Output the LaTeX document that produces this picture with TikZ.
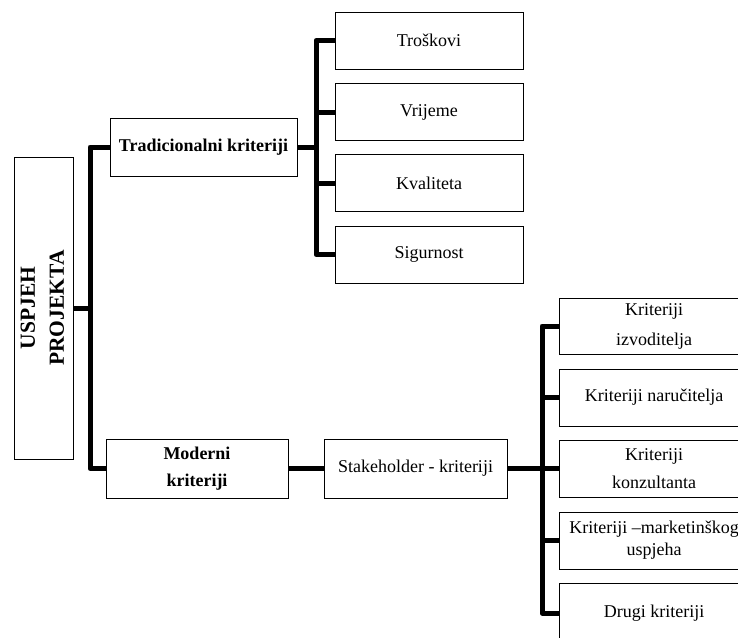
\documentclass[tikz,border=0pt]{standalone}
\usepackage{fontspec}
\usepackage{graphicx}
\setmainfont{Liberation Serif}
\begin{document}
\begin{tikzpicture}[x=1pt,y=-1pt,
  box/.style={draw,line width=1pt,inner sep=0pt,align=center,
    font=\fontsize{18}{28}\selectfont},
  conn/.style={line width=5pt,line join=round}]
\useasboundingbox (0,0) rectangle (738,637);
\clip (0,0) rectangle (738,637);
% root
\node[box,minimum width=59pt,minimum height=302pt] (usp) at (43.5,308)
  {\rotatebox{90}{\fontsize{21.5}{29}\selectfont\bfseries\begin{tabular}{@{}c@{}}USPJEH\\PROJEKTA\end{tabular}}};
% level 1
\node[box,minimum width=187pt,minimum height=58pt,font=\fontsize{18}{28}\selectfont\bfseries] (trad) at (203.5,147) {Tradicionalni kriteriji};
\node[box,minimum width=182pt,minimum height=59pt,font=\fontsize{18}{27}\selectfont\bfseries] (mod) at (197,468.5) {Moderni\\kriteriji};
% traditional criteria
\node[box,minimum width=188pt,minimum height=57pt] (tros) at (429,40.5) {Troškovi};
\node[box,minimum width=188pt,minimum height=57pt] (vrij) at (429,112) {Vrijeme};
\node[box,minimum width=188pt,minimum height=57pt] (kval) at (429,183) {Kvaliteta};
\node[box,minimum width=188pt,minimum height=57pt] (sig) at (429,254.5) {Sigurnost};
% stakeholder
\node[box,minimum width=183pt,minimum height=59pt] (stake) at (415.5,468.5) {Stakeholder - kriteriji};
% right column
\node[box,minimum width=190pt,minimum height=56pt,font=\fontsize{18}{30}\selectfont] (izv) at (654,326) {Kriteriji\\izvoditelja};
\node[box,minimum width=190pt,minimum height=57pt] (nar) at (654,397.5) {Kriteriji naručitelja};
\node[box,minimum width=190pt,minimum height=57pt,font=\fontsize{18}{28}\selectfont] (kon) at (654,468.5) {Kriteriji\\konzultanta};
\node[box,minimum width=190pt,minimum height=57pt,font=\fontsize{18}{22}\selectfont] (mar) at (654,540.5) {Kriteriji –marketinškog\\uspjeha};
\node[box,minimum width=190pt,minimum height=60pt] (dru) at (654,613) {Drugi kriteriji};
% trunk coordinates
\coordinate (t1) at (90,0);
\coordinate (t2) at (316,0);
\coordinate (t3) at (542,0);
% connectors
\draw[conn] (trad.west) -- (trad.west -| t1) -- (mod.west -| t1) -- (mod.west);
\draw[conn] (usp.east) -- (usp.east -| t1);
\draw[conn] (tros.west) -- (tros.west -| t2) -- (sig.west -| t2) -- (sig.west);
\draw[conn] (vrij.west) -- (vrij.west -| t2);
\draw[conn] (kval.west) -- (kval.west -| t2);
\draw[conn] (trad.east) -- (trad.east -| t2);
\draw[conn] (mod.east) -- (stake.west);
\draw[conn] (izv.west) -- (izv.west -| t3) -- (dru.west -| t3) -- (dru.west);
\draw[conn] (nar.west) -- (nar.west -| t3);
\draw[conn] (kon.west) -- (kon.west -| t3);
\draw[conn] (mar.west) -- (mar.west -| t3);
\draw[conn] (stake.east) -- (stake.east -| t3);
\end{tikzpicture}
\end{document}
